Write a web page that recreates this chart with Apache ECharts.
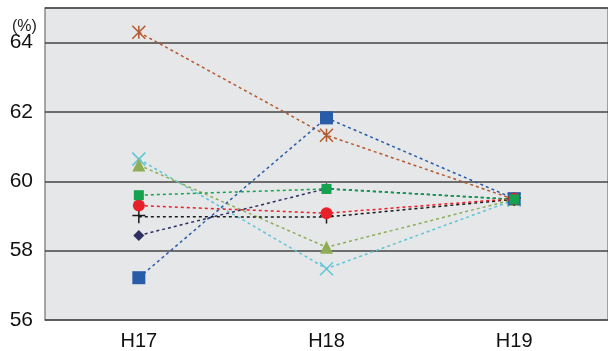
<!DOCTYPE html>
<html><head><meta charset="utf-8">
<script src="https://cdn.jsdelivr.net/npm/echarts@6/dist/echarts.min.js"></script>
<style>html,body{margin:0;padding:0;background:#fff}#c{width:608px;height:351px}</style>
</head><body><div id="c"></div>
<script>
const categories = ['H17', 'H18', 'H19'];
const yTicks = [56, 58, 60, 62, 64];
const seriesBrown = [64.3, 61.33, 59.48];
const seriesBlue = [57.22, 61.83, 59.5];
const seriesNavy = [58.44, 59.79, 59.48];
const seriesGreen = [59.6, 59.78, 59.48];
const seriesRed = [59.3, 59.08, 59.5];
const seriesBlack = [58.98, 58.97, 59.48];
const seriesOlive = [60.47, 58.1, 59.48];
const seriesCyan = [60.64, 57.48, 59.46];

const asterisk = 'path://M0,0L10,10M10,0L0,10M5,0L5,10';
const cross = 'path://M0,0L10,10M10,0L0,10';
const plus = 'path://M5,0L5,10M0,4L10,4';

function mk(name, data, color, symbol, size, stroke) {
  return {
    name, type: 'line', data, symbol, symbolSize: size,
    lineStyle: { color, width: 1.5, type: [3, 3] },
    itemStyle: stroke ? { color: 'rgba(0,0,0,0)', borderColor: color, borderWidth: 1.5 } : { color },
    animation: false, z: 3
  };
}

const chart = echarts.init(document.getElementById('c'), null, { renderer: 'canvas' });
chart.setOption({
  animation: false,
  title: { text: '(%)', left: 7, top: 14, textStyle: { fontFamily: 'Liberation Sans', fontSize: 16, fontWeight: 'normal', color: '#222' } },
  grid: { left: 45, right: -5, top: 8, bottom: 31, show: true, backgroundColor: '#e6e7e8', borderColor: '#8a8a8a', borderWidth: 1.5 },
  xAxis: {
    type: 'category', data: categories, boundaryGap: true,
    axisLine: { show: false }, axisTick: { show: false },
    axisLabel: { fontFamily: 'Liberation Sans', fontSize: 20, color: '#111', margin: 11 }
  },
  yAxis: {
    type: 'value', min: yTicks[0], max: 65, interval: 2,
    axisLine: { show: false }, axisTick: { show: false },
    axisLabel: { fontFamily: 'Liberation Sans', fontSize: 21, color: '#111', margin: 12, showMaxLabel: false,
      formatter: v => yTicks.includes(v) ? String(v) : '' },
    splitLine: { show: true, lineStyle: { color: '#444', width: 1.5 } }
  },
  series: [
    mk('brown', seriesBrown, '#b4582f', asterisk, 13, true),
    mk('cyan', seriesCyan, '#5ec6d6', cross, 13, true),
    mk('olive', seriesOlive, '#8ead54', 'triangle', 13, false),
    mk('blue', seriesBlue, '#285ba8', 'rect', 13, false),
    mk('navy', seriesNavy, '#2d2f62', 'diamond', 11, false),
    mk('black', seriesBlack, '#1a1a1a', plus, 13, true),
    mk('red', seriesRed, '#e8202a', 'circle', 12, false),
    mk('green', seriesGreen, '#14a150', 'rect', 10, false)
  ]
});
</script></body></html>
